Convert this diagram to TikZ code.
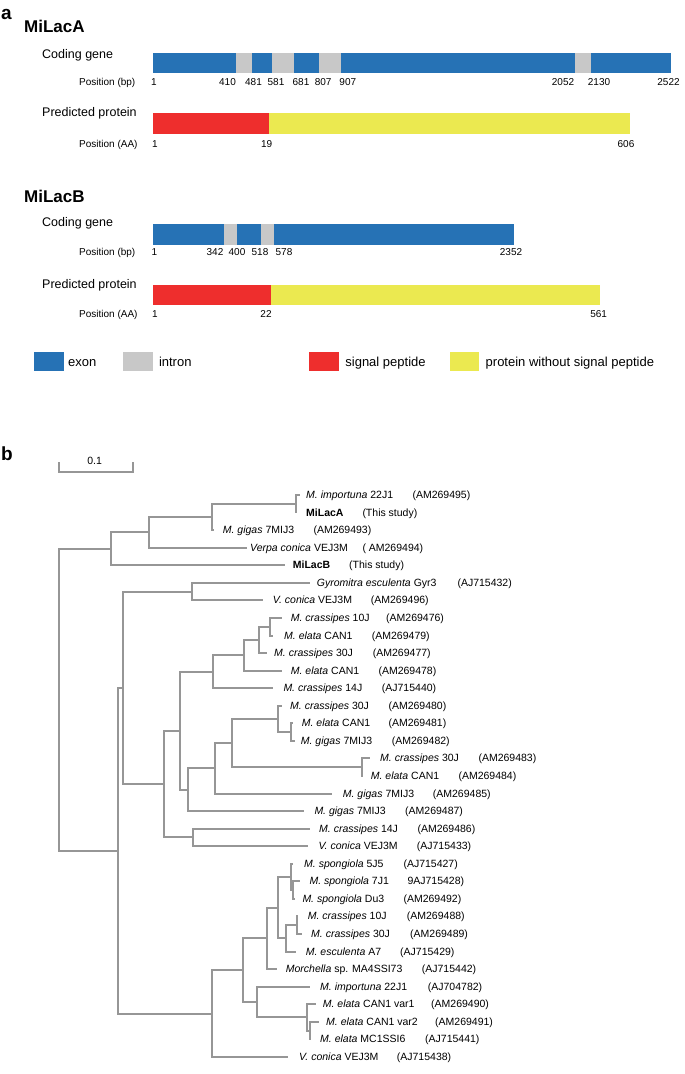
\documentclass[tikz,border=0pt]{standalone}
\usepackage{fontspec}
\setmainfont{Liberation Sans}
\usetikzlibrary{positioning, calc}
\definecolor{exonblue}{RGB}{38,114,181}
\definecolor{introngray}{RGB}{200,200,200}
\definecolor{sigred}{RGB}{238,46,45}
\definecolor{protyellow}{RGB}{235,233,80}
\definecolor{treegray}{RGB}{150,150,150}

\begin{document}
\begin{tikzpicture}[x=1pt, y=-1pt,
  font=\fontsize{10.5}{12}\selectfont,
  letter/.style={font=\fontsize{19}{22}\selectfont\bfseries, anchor=base west, inner sep=0pt},
  genename/.style={font=\fontsize{17}{20}\selectfont\bfseries, anchor=base west, inner sep=0pt},
  rowlabel/.style={font=\fontsize{12.5}{15}\selectfont, anchor=base west, inner sep=0pt},
  axislabel/.style={font=\fontsize{10}{12}\selectfont, anchor=base west, inner sep=0pt},
  posnum/.style={font=\fontsize{10}{12}\selectfont, anchor=base, inner sep=0pt},
  legendtext/.style={font=\fontsize{13}{15}\selectfont, anchor=base west, inner sep=0pt},
  exon/.style={fill=exonblue},
  intron/.style={fill=introngray},
  signal/.style={fill=sigred},
  mature/.style={fill=protyellow},
  branch/.style={draw=treegray, line width=2pt},
  leaf/.style={anchor=base west, inner sep=0pt, yshift=-3.8pt}
]
\useasboundingbox (0,0) rectangle (685,1074);

% pannello a
\node[letter] (pa) at (1,19.5) {a};
\node[genename] (MA) at (24,32.7) {MiLacA};
\node[rowlabel] (cgA) at (42,58) {Coding gene};
\node[axislabel] (pbA) at (79,85.2) {Position (bp)};
\fill[exon] (152.7,52.7) rectangle (671,73);
\fill[intron] (236,52.7) rectangle (251.5,73);
\fill[intron] (272,52.7) rectangle (294,73);
\fill[intron] (319,52.7) rectangle (341,73);
\fill[intron] (575,52.7) rectangle (591,73);
\node[posnum] (gA1) at (154,85.2) {1};
\node[posnum] (gA2) at (227.5,85.2) {410};
\node[posnum] (gA3) at (253.5,85.2) {481};
\node[posnum] (gA4) at (276,85.2) {581};
\node[posnum] (gA5) at (301,85.2) {681};
\node[posnum] (gA6) at (323.2,85.2) {807};
\node[posnum] (gA7) at (347.8,85.2) {907};
\node[posnum] (gA8) at (563,85.2) {2052};
\node[posnum] (gA9) at (599,85.2) {2130};
\node[posnum] (gA10) at (668.5,85.2) {2522};

\node[rowlabel] (ppA) at (42,116) {Predicted protein};
\node[axislabel] (paA) at (79,147.5) {Position (AA)};
\fill[signal] (152.7,113.3) rectangle (269,133.8);
\fill[mature] (269,113.3) rectangle (630,133.8);
\node[posnum] (pA1) at (155,147.5) {1};
\node[posnum] (pA2) at (266.7,147.5) {19};
\node[posnum] (pA3) at (626,147.5) {606};

\node[genename] (MB) at (24,202.7) {MiLacB};
\node[rowlabel] (cgB) at (42,226) {Coding gene};
\node[axislabel] (pbB) at (79,255.2) {Position (bp)};
\fill[exon] (152.7,224) rectangle (514,244.7);
\fill[intron] (223.7,224) rectangle (236.8,244.7);
\fill[intron] (260.5,224) rectangle (274.1,244.7);
\node[posnum] (gB1) at (154.4,255.2) {1};
\node[posnum] (gB2) at (215,255.2) {342};
\node[posnum] (gB3) at (237,255.2) {400};
\node[posnum] (gB4) at (260,255.2) {518};
\node[posnum] (gB5) at (284,255.2) {578};
\node[posnum] (gB6) at (511,255.2) {2352};

\node[rowlabel] (ppB) at (42,288.3) {Predicted protein};
\node[axislabel] (paB) at (79,317.5) {Position (AA)};
\fill[signal] (152.7,285) rectangle (270.6,305);
\fill[mature] (270.6,285) rectangle (600,305);
\node[posnum] (pB1) at (155,317.5) {1};
\node[posnum] (pB2) at (266,317.5) {22};
\node[posnum] (pB3) at (598.7,317.5) {561};

% legenda
\fill[exon] (34.2,351.7) rectangle (63.6,370.5);
\node[legendtext] (lg1) at (68,366) {exon};
\fill[intron] (122.8,351.7) rectangle (152.6,370.5);
\node[legendtext] (lg2) at (158.8,366) {intron};
\fill[signal] (309.2,351.7) rectangle (338.6,370.5);
\node[legendtext] (lg3) at (345.2,366) {signal peptide};
\fill[mature] (449.6,351.7) rectangle (479,370.5);
\node[legendtext] (lg4) at (485.5,366) {protein without signal peptide};

% pannello b
\node[letter] (pb) at (1,460) {b};

% barra di scala
\coordinate (SB1) at (59,462);
\coordinate (SB2) at (133,462);
\draw[branch] (SB1) |- ($(SB2)+(0,10)$) -- (SB2);
\node[font=\fontsize{10.5}{12}\selectfont, inner sep=0pt] (sbl) at (94.7,460.5) {0.1};

% nodi interni
\coordinate (NR) at (59,700);
\coordinate (NA) at (111,549);
\coordinate (NB) at (149,532);
\coordinate (NC) at (212,517);
\coordinate (ND) at (296,504);
\coordinate (NE) at (118,851);
\coordinate (NF) at (123,688);
\coordinate (NG) at (192,592);
\coordinate (NH) at (164,784);
\coordinate (NI) at (180,731);
\coordinate (NJ) at (193,837);
\coordinate (NK) at (213,672);
\coordinate (NM) at (244,655);
\coordinate (NN) at (259,640);
\coordinate (NO) at (270,627);
\coordinate (NL) at (188,790);
\coordinate (NP) at (215,768);
\coordinate (NQ) at (232,743);
\coordinate (NS) at (278,719);
\coordinate (NU) at (291,732);
\coordinate (NT) at (362,767);
\coordinate (NV) at (212,1014);
\coordinate (NW) at (243,970);
\coordinate (NX) at (267,938);
\coordinate (NZ) at (278,908);
\coordinate (NSp) at (291,877);
\coordinate (NSq) at (293,890);
\coordinate (NCr) at (286,938);
\coordinate (NCs) at (297,925);
\coordinate (NY) at (257,1002);
\coordinate (NEl) at (307,1017);
\coordinate (NEm) at (310,1031);

% estremi dei rami
\coordinate (T1) at (300,495);
\coordinate (T2) at (296,513);
\coordinate (T3) at (214,530);
\coordinate (T4) at (247,548);
\coordinate (T5) at (285,565);
\coordinate (T6) at (310,583);
\coordinate (T7) at (263,600);
\coordinate (T8) at (282,618);
\coordinate (T9) at (273,636);
\coordinate (T10) at (267,653);
\coordinate (T11) at (282,671);
\coordinate (T12) at (273,688);
\coordinate (T13) at (282,706);
\coordinate (T14) at (293,723);
\coordinate (T15) at (295,741);
\coordinate (T16) at (370,758);
\coordinate (T17) at (363,776);
\coordinate (T18) at (332,794);
\coordinate (T19) at (304,811);
\coordinate (T20) at (310,829);
\coordinate (T21) at (308,846);
\coordinate (T22) at (293,864);
\coordinate (T23) at (300,881);
\coordinate (T24) at (295,899);
\coordinate (T25) at (298,916);
\coordinate (T26) at (302,934);
\coordinate (T27) at (296,952);
\coordinate (T28) at (277,969);
\coordinate (T29) at (310,987);
\coordinate (T30) at (316,1004);
\coordinate (T31) at (319,1022);
\coordinate (T32) at (311,1039);
\coordinate (T33) at (288,1057);

% rami
\draw[branch] (NR) |- (NA) (NR) |- (NE);
\draw[branch] (NA) |- (NB) (NA) |- (T5);
\draw[branch] (NB) |- (NC) (NB) |- (T4);
\draw[branch] (NC) |- (ND) (NC) |- (T3);
\draw[branch] (ND) |- (T1) (ND) |- (T2);
\draw[branch] (NE) |- (NF) (NE) |- (NV);
\draw[branch] (NF) |- (NG) (NF) |- (NH);
\draw[branch] (NG) |- (T6) (NG) |- (T7);
\draw[branch] (NH) |- (NI) (NH) |- (NJ);
\draw[branch] (NI) |- (NK) (NI) |- (NL);
\draw[branch] (NK) |- (NM) (NK) |- (T12);
\draw[branch] (NM) |- (NN) (NM) |- (T11);
\draw[branch] (NN) |- (NO) (NN) |- (T10);
\draw[branch] (NO) |- (T8) (NO) |- (T9);
\draw[branch] (NL) |- (NP) (NL) |- (T19);
\draw[branch] (NP) |- (NQ) (NP) |- (T18);
\draw[branch] (NQ) |- (NS) (NQ) |- (NT);
\draw[branch] (NS) |- (T13) (NS) |- (NU);
\draw[branch] (NU) |- (T14) (NU) |- (T15);
\draw[branch] (NT) |- (T16) (NT) |- (T17);
\draw[branch] (NJ) |- (T20) (NJ) |- (T21);
\draw[branch] (NV) |- (NW) (NV) |- (T33);
\draw[branch] (NW) |- (NX) (NW) |- (NY);
\draw[branch] (NX) |- (NZ) (NX) |- (T28);
\draw[branch] (NZ) |- (NSp) (NZ) |- (NCr);
\draw[branch] (NSp) |- (T22) (NSp) |- (NSq);
\draw[branch] (NSq) |- (T23) (NSq) |- (T24);
\draw[branch] (NCr) |- (NCs) (NCr) |- (T27);
\draw[branch] (NCs) |- (T25) (NCs) |- (T26);
\draw[branch] (NY) |- (T29) (NY) |- (NEl);
\draw[branch] (NEl) |- (T30) (NEl) |- (NEm);
\draw[branch] (NEm) |- (T31) (NEm) |- (T32);

% etichette
\node[leaf] (L1) at (306,495) {\textit{M. importuna} 22J1};
\node[leaf] (A1) at (412.3,495) {(AM269495)};
\node[leaf] (L2) at (306,513) {\textbf{MiLacA}};
\node[leaf] (A2) at (362.3,513) {(This study)};
\node[leaf] (L3) at (222.7,530) {\textit{M. gigas} 7MIJ3};
\node[leaf] (A3) at (313.3,530) {(AM269493)};
\node[leaf] (L4) at (250,548) {\textit{Verpa conica} VEJ3M};
\node[leaf] (A4) at (362.3,548) {( AM269494)};
\node[leaf] (L5) at (292.7,565) {\textbf{MiLacB}};
\node[leaf] (A5) at (349,565) {(This study)};
\node[leaf] (L6) at (316.7,583) {\textit{Gyromitra esculenta} Gyr3};
\node[leaf] (A6) at (457.3,583) {(AJ715432)};
\node[leaf] (L7) at (272.7,600) {\textit{V. conica} VEJ3M};
\node[leaf] (A7) at (370.7,600) {(AM269496)};
\node[leaf] (L8) at (290.7,618) {\textit{M. crassipes} 10J};
\node[leaf] (A8) at (386,618) {(AM269476)};
\node[leaf] (L9) at (284,636) {\textit{M. elata} CAN1};
\node[leaf] (A9) at (371.7,636) {(AM269479)};
\node[leaf] (L10) at (274,653) {\textit{M. crassipes} 30J};
\node[leaf] (A10) at (372.7,653) {(AM269477)};
\node[leaf] (L11) at (290.7,671) {\textit{M. elata} CAN1};
\node[leaf] (A11) at (378.3,671) {(AM269478)};
\node[leaf] (L12) at (283.3,688) {\textit{M. crassipes} 14J};
\node[leaf] (A12) at (381.7,688) {(AJ715440)};
\node[leaf] (L13) at (290,706) {\textit{M. crassipes} 30J};
\node[leaf] (A13) at (388.3,706) {(AM269480)};
\node[leaf] (L14) at (301.7,723) {\textit{M. elata} CAN1};
\node[leaf] (A14) at (388.3,723) {(AM269481)};
\node[leaf] (L15) at (300.7,741) {\textit{M. gigas} 7MIJ3};
\node[leaf] (A15) at (391.7,741) {(AM269482)};
\node[leaf] (L16) at (380,758) {\textit{M. crassipes} 30J};
\node[leaf] (A16) at (478.3,758) {(AM269483)};
\node[leaf] (L17) at (370.7,776) {\textit{M. elata} CAN1};
\node[leaf] (A17) at (458.3,776) {(AM269484)};
\node[leaf] (L18) at (342.7,794) {\textit{M. gigas} 7MIJ3};
\node[leaf] (A18) at (432.7,794) {(AM269485)};
\node[leaf] (L19) at (314.3,811) {\textit{M. gigas} 7MIJ3};
\node[leaf] (A19) at (405,811) {(AM269487)};
\node[leaf] (L20) at (319,829) {\textit{M. crassipes} 14J};
\node[leaf] (A20) at (417.3,829) {(AM269486)};
\node[leaf] (L21) at (318.3,846) {\textit{V. conica} VEJ3M};
\node[leaf] (A21) at (416.7,846) {(AJ715433)};
\node[leaf] (L22) at (304,864) {\textit{M. spongiola} 5J5};
\node[leaf] (A22) at (403.3,864) {(AJ715427)};
\node[leaf] (L23) at (309.3,881) {\textit{M. spongiola} 7J1};
\node[leaf] (A23) at (407.3,881) {9AJ715428)};
\node[leaf] (L24) at (302.3,899) {\textit{M. spongiola} Du3};
\node[leaf] (A24) at (403.3,899) {(AM269492)};
\node[leaf] (L25) at (307.7,916) {\textit{M. crassipes} 10J};
\node[leaf] (A25) at (406.7,916) {(AM269488)};
\node[leaf] (L26) at (311,934) {\textit{M. crassipes} 30J};
\node[leaf] (A26) at (410,934) {(AM269489)};
\node[leaf] (L27) at (305.7,952) {\textit{M. esculenta} A7};
\node[leaf] (A27) at (400,952) {(AJ715429)};
\node[leaf] (L28) at (285.7,969) {\textit{Morchella} sp. MA4SSI73};
\node[leaf] (A28) at (421.7,969) {(AJ715442)};
\node[leaf] (L29) at (320,987) {\textit{M. importuna} 22J1};
\node[leaf] (A29) at (427.7,987) {(AJ704782)};
\node[leaf] (L30) at (322.7,1004) {\textit{M. elata} CAN1 var1};
\node[leaf] (A30) at (431,1004) {(AM269490)};
\node[leaf] (L31) at (326,1022) {\textit{M. elata} CAN1 var2};
\node[leaf] (A31) at (435,1022) {(AM269491)};
\node[leaf] (L32) at (320,1039) {\textit{M. elata} MC1SSI6};
\node[leaf] (A32) at (425,1039) {(AJ715441)};
\node[leaf] (L33) at (299,1057) {\textit{V. conica} VEJ3M};
\node[leaf] (A33) at (396.7,1057) {(AJ715438)};

\end{tikzpicture}
\end{document}
